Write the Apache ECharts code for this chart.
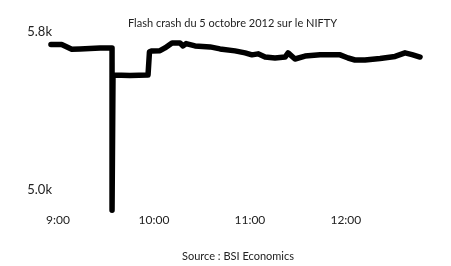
<!DOCTYPE html>
<html>
<head>
<meta charset="utf-8">
<script src="https://cdn.jsdelivr.net/npm/echarts@6/dist/echarts.min.js"></script>
<style>
  html, body { margin: 0; padding: 0; background: #fff; }
  #chart { width: 451px; height: 266px; }
</style>
</head>
<body>
<div id="chart"></div>
<script>
// minutes after 9:00, NIFTY level in thousands
const minutes = [-4.4, 2.3, 8.6, 13.8, 20, 26.3, 32.5, 33.8, 33.8, 34.4, 45, 56.3, 57.2, 58.8, 63.8, 66.9, 71.3, 76.3, 78.2, 80.1, 85.7, 95.1, 101.3, 110.7, 117, 121.3, 125.1, 129.5, 135.7, 142, 143.9, 148.2, 154.5, 163.9, 176.4, 181.4, 185.7, 192, 201.4, 210.8, 217, 221.4, 226.4];
const nifty = [5.736, 5.736, 5.712, 5.714, 5.716, 5.719, 5.719, 5.719, 4.899, 5.582, 5.58, 5.582, 5.699, 5.704, 5.705, 5.719, 5.744, 5.744, 5.729, 5.741, 5.729, 5.724, 5.714, 5.704, 5.694, 5.684, 5.689, 5.673, 5.668, 5.673, 5.694, 5.663, 5.678, 5.684, 5.684, 5.668, 5.658, 5.658, 5.666, 5.676, 5.694, 5.685, 5.673];

const xTicks = [0, 60, 120, 180];
const xTickLabels = ["9:00", "10:00", "11:00", "12:00"];
const yTicks = [5.0, 5.8];
const yTickLabels = ["5.0k", "5.8k"];

const font = "Lato";
const chart = echarts.init(document.getElementById("chart"));

chart.setOption({
  animation: false,
  backgroundColor: "#fff",
  title: [
    {
      text: "Flash crash du 5 octobre 2012 sur le NIFTY",
      left: 123,
      top: 13,
      textStyle: { fontFamily: font, fontSize: 11, fontWeight: "normal", color: "#222" }
    },
    {
      text: "Source : BSI Economics",
      left: 177,
      top: 246,
      textStyle: { fontFamily: font, fontSize: 11, fontWeight: "normal", color: "#222" }
    }
  ],
  grid: { left: 50, right: 30, top: 20, height: 194 },
  xAxis: {
    type: "value",
    min: -5,
    max: 227,
    axisLine: { show: false },
    axisTick: { show: false },
    splitLine: { show: false },
    axisLabel: {
      customValues: xTicks,
      margin: 0,
      fontFamily: font,
      fontSize: 12,
      color: "#222",
      formatter: v => xTickLabels[xTicks.indexOf(v)]
    }
  },
  yAxis: {
    type: "value",
    min: 4.88,
    max: 5.86,
    axisLine: { show: false },
    axisTick: { show: false },
    splitLine: { show: false },
    axisLabel: {
      customValues: yTicks,
      margin: -2,
      fontFamily: font,
      fontSize: 13,
      color: "#222",
      formatter: v => yTickLabels[yTicks.indexOf(v)]
    }
  },
  series: [
    {
      type: "line",
      data: minutes.map((m, i) => [m, nifty[i]]),
      showSymbol: false,
      clip: false,
      lineStyle: { color: "#000", width: 5.5, cap: "round", join: "round" }
    }
  ]
});
</script>
</body>
</html>
